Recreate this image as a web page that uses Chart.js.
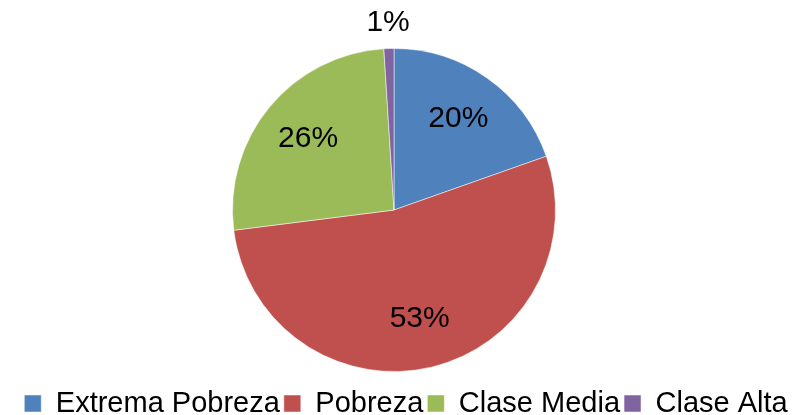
<!DOCTYPE html>
<html>
<head>
<meta charset="utf-8">
<script src="https://cdn.jsdelivr.net/npm/chart.js@4.4.1/dist/chart.umd.min.js"></script>
<style>
  html, body { margin: 0; padding: 0; background: #ffffff; }
  #wrap { width: 802px; height: 415px; }
</style>
</head>
<body>
<div id="wrap"><canvas id="pieChart"></canvas></div>
<script>
// categories and shares
const categories = ['Extrema Pobreza', 'Pobreza', 'Clase Media', 'Clase Alta'];
const shares = [19.6, 53.4, 26.0, 1.0];
const sliceColors = ['#4F81BD', '#C0504D', '#9BBB59', '#8064A2'];

// draws the % labels, small slices get them outside
const pctLabels = {
  id: 'pctLabels',
  afterDatasetsDraw(chart) {
    const ctx = chart.ctx;
    const meta = chart.getDatasetMeta(0);
    const total = shares.reduce((a, b) => a + b, 0);
    ctx.save();
    ctx.font = '30px "Liberation Sans", Arial, sans-serif';
    ctx.fillStyle = '#000000';
    ctx.textAlign = 'center';
    ctx.textBaseline = 'middle';
    meta.data.forEach((arc, i) => {
      const p = arc.getProps(['x', 'y', 'startAngle', 'endAngle', 'outerRadius'], true);
      const mid = (p.startAngle + p.endAngle) / 2;
      const pct = shares[i] / total * 100;
      const r = pct < 5 ? p.outerRadius + 26 : p.outerRadius * 0.69;
      ctx.fillText(Math.round(pct) + '%', p.x + Math.cos(mid) * r, p.y + Math.sin(mid) * r);
    });
    ctx.restore();
  }
};

// nudge the legend so it sits where the reference has it
const legendShift = {
  id: 'legendShift',
  afterLayout(chart) {
    const lg = chart.legend;
    if (lg) {
      lg.left += 12;
      lg.right += 12;
      lg.top += 13;
      lg.bottom += 13;
    }
  }
};

new Chart(document.getElementById('pieChart'), {
  type: 'pie',
  data: {
    labels: categories,
    datasets: [{
      data: shares,
      backgroundColor: sliceColors,
      borderColor: 'rgba(255,255,255,0.5)',
      borderWidth: 1
    }]
  },
  options: {
    responsive: true,
    maintainAspectRatio: false,
    animation: false,
    layout: { padding: { top: 48, right: 14, left: 0, bottom: 0 } },
    plugins: {
      tooltip: { enabled: false },
      legend: {
        position: 'bottom',
        labels: {
          color: '#000000',
          boxWidth: 17,
          boxHeight: 17,
          padding: 4,
          font: { family: '"Liberation Sans", Arial, sans-serif', size: 29 }
        }
      }
    }
  },
  plugins: [pctLabels, legendShift]
});
</script>
</body>
</html>
